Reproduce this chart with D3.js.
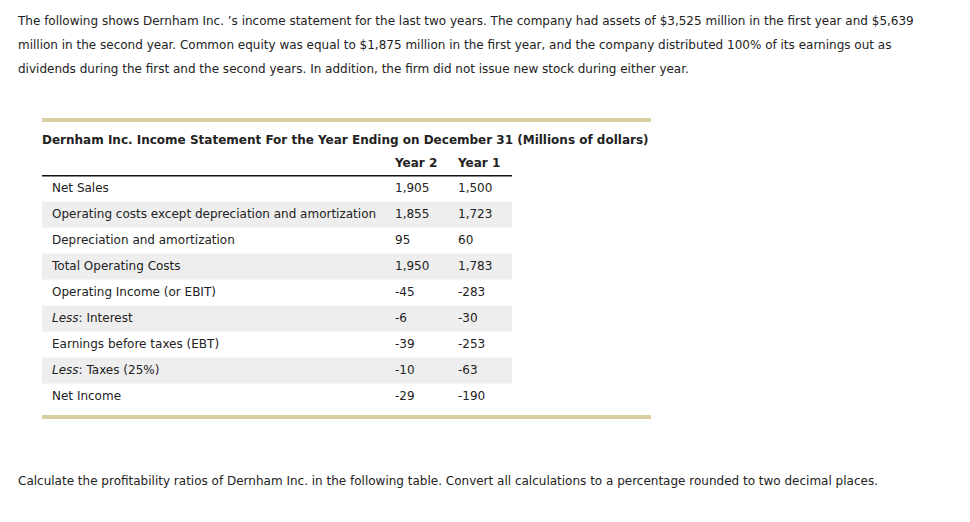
<!DOCTYPE html>
<html>
<head>
<meta charset="utf-8">
<script src="https://cdn.jsdelivr.net/npm/d3@7"></script>
<style>
html,body{margin:0;padding:0;background:#fff;}
svg{display:block;}
text{font-family:"DejaVu Sans",Verdana,sans-serif;fill:#222;}
</style>
</head>
<body>
<svg id="chart" width="970" height="522"></svg>
<script>
const introLines = [
  "The following shows Dernham Inc. \u2019s income statement for the last two years. The company had assets of $3,525 million in the first year and $5,639",
  "million in the second year. Common equity was equal to $1,875 million in the first year, and the company distributed 100% of its earnings out as",
  "dividends during the first and the second years. In addition, the firm did not issue new stock during either year."
];
const tableTitle = "Dernham Inc. Income Statement For the Year Ending on December 31 (Millions of dollars)";
const columnHeaders = ["Year 2", "Year 1"];
const rowPrefixes = ["", "", "", "", "", "Less", "", "Less", ""];
const rowLabels = [
  "Net Sales",
  "Operating costs except depreciation and amortization",
  "Depreciation and amortization",
  "Total Operating Costs",
  "Operating Income (or EBIT)",
  ": Interest",
  "Earnings before taxes (EBT)",
  ": Taxes (25%)",
  "Net Income"
];
const year2Values = [1905, 1855, 95, 1950, -45, -6, -39, -10, -29];
const year1Values = [1500, 1723, 60, 1783, -283, -30, -253, -63, -190];
const footerLine = "Calculate the profitability ratios of Dernham Inc. in the following table. Convert all calculations to a percentage rounded to two decimal places.";

const svg = d3.select("#chart");
const fs = 12;
const fmt = d3.formatLocale({decimal: ".", thousands: ",", grouping: [3], currency: ["$", ""], minus: "-"}).format(",d");

// intro paragraph
const lineY = d3.scalePoint().domain(d3.range(introLines.length)).range([25, 73]);
svg.append("g").selectAll("text").data(introLines).join("text")
  .attr("x", 18).attr("y", (d, i) => lineY(i))
  .attr("font-size", fs).text(d => d);

// table
const tableLeft = 42, tableRight = 651, ruleRight = 512;
svg.append("rect").attr("x", tableLeft).attr("y", 118).attr("width", tableRight - tableLeft).attr("height", 4).attr("fill", "#d9cfa1");
svg.append("text").attr("x", tableLeft).attr("y", 143.5).attr("font-size", fs).attr("font-weight", "bold").text(tableTitle);

const colX = d3.scaleOrdinal().domain(columnHeaders).range([395, 458]);
svg.append("g").selectAll("text").data(columnHeaders).join("text")
  .attr("x", d => colX(d)).attr("y", 166.5).attr("font-size", fs).attr("font-weight", "bold").text(d => d);
svg.append("rect").attr("x", tableLeft).attr("y", 175).attr("width", ruleRight - tableLeft).attr("height", 1.5).attr("fill", "#111");

const rowY = d3.scaleBand().domain(d3.range(rowLabels.length)).range([175.5, 175.5 + 26 * rowLabels.length]).padding(0);
const rows = svg.append("g").selectAll("g").data(rowLabels.map((l, i) => ({l, p: rowPrefixes[i], v2: year2Values[i], v1: year1Values[i], i})))
  .join("g").attr("transform", d => `translate(0,${rowY(d.i)})`);
rows.filter(d => d.i % 2 === 1).append("rect")
  .attr("x", tableLeft).attr("y", 0).attr("width", ruleRight - tableLeft).attr("height", rowY.bandwidth()).attr("fill", "#eeeeee");
const lbl = rows.append("text").attr("x", 52).attr("y", 16).attr("font-size", fs);
lbl.filter(d => d.p).append("tspan").attr("font-style", "italic").text(d => d.p);
lbl.append("tspan").text(d => d.l);
rows.append("text").attr("x", colX(columnHeaders[0])).attr("y", 16).attr("font-size", fs).text(d => fmt(d.v2));
rows.append("text").attr("x", colX(columnHeaders[1])).attr("y", 16).attr("font-size", fs).text(d => fmt(d.v1));

svg.append("rect").attr("x", tableLeft).attr("y", 415).attr("width", tableRight - tableLeft).attr("height", 4).attr("fill", "#d9cfa1");

svg.append("text").attr("x", 18).attr("y", 484.5).attr("font-size", fs).text(footerLine);
</script>
</body>
</html>
